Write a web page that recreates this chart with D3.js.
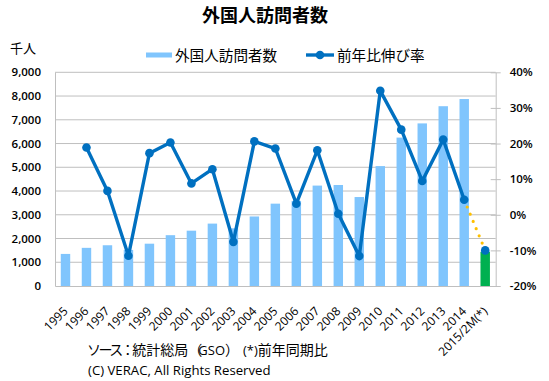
<!DOCTYPE html>
<html><head><meta charset="utf-8">
<script src="https://cdn.jsdelivr.net/npm/d3@7/dist/d3.min.js"></script>
<style>
body{margin:0;background:#fff;}
svg{display:block;}
</style></head>
<body><svg id="c" width="549" height="381"></svg>
<script>
const categories = ["1995","1996","1997","1998","1999","2000","2001","2002","2003","2004","2005","2006","2007","2008","2009","2010","2011","2012","2013","2014","2015/2M(*)"];
const visitors = [1351,1607,1716,1520,1782,2140,2330,2628,2429,2928,3468,3584,4229,4254,3747,5050,6250,6848,7572,7874,1440];
const growth = [null,18.9,6.7,-11.5,17.3,20.3,8.8,12.8,-7.6,20.6,18.6,3.1,18.1,0.3,-11.6,34.8,23.9,9.5,21.1,4.2,-10.0];
const leftTicks = [0,1000,2000,3000,4000,5000,6000,7000,8000,9000];
const rightTicks = [-20,-10,0,10,20,30,40];

const svg = d3.select("#c");
const L = 55, R = 495.7, T = 72.3, B = 286;
const jp = "'Noto Sans CJK JP', sans-serif";
const num = "'Open Sans', sans-serif";

const x = d3.scaleBand().domain(categories).range([L, R]).paddingInner(0.55).paddingOuter(0.275);
const y = d3.scaleLinear().domain([0, 9000]).range([B, T]);
const y2 = d3.scaleLinear().domain([-20, 40]).range([B, T]);

// gridlines
svg.append("g").selectAll("line").data(leftTicks.slice(1)).join("line")
  .attr("x1", L).attr("x2", R).attr("y1", d => y(d)).attr("y2", d => y(d))
  .attr("stroke", "#bfbfbf").attr("stroke-width", 1);

// left axis
const gl = svg.append("g").attr("transform", `translate(${L},0)`)
  .call(d3.axisLeft(y).tickValues(leftTicks).tickFormat(d3.format(",")).tickSize(0).tickPadding(14));
gl.select(".domain").attr("stroke", "#bfbfbf");
gl.selectAll("text").attr("font-family", num).attr("font-size", 11.5).attr("fill", "#000").attr("font-weight", 600);

// right axis
const gr = svg.append("g").attr("transform", `translate(${R},0)`)
  .call(d3.axisRight(y2).tickValues(rightTicks).tickFormat(d => d + "%").tickSizeInner(5).tickSizeOuter(0).tickPadding(9));
gr.select(".domain").attr("stroke", "#bfbfbf");
gr.selectAll(".tick line").attr("stroke", "#bfbfbf").attr("x1", -5);
gr.selectAll("text").attr("font-family", num).attr("font-size", 11.5).attr("fill", "#000").attr("font-weight", 600);

// bottom axis
const gb = svg.append("g").attr("transform", `translate(0,${B})`)
  .call(d3.axisBottom(x).tickSize(0).tickPadding(0));
gb.select(".domain").attr("stroke", "#bfbfbf");
gb.selectAll("text").attr("font-family", num).attr("font-size", 12).attr("fill", "#000")
  .attr("text-anchor", "end").attr("dy", 0).attr("y", 0)
  .attr("transform", "translate(3,26) rotate(-45)");

// bars
svg.append("g").selectAll("rect").data(categories).join("rect")
  .attr("x", d => x(d)).attr("width", x.bandwidth())
  .attr("y", (d, i) => y(visitors[i])).attr("height", (d, i) => B - y(visitors[i]))
  .attr("fill", (d, i) => i === categories.length - 1 ? "#00b050" : "#80c5fd");

// line
const pts = categories.map((c, i) => ({c, v: growth[i]})).filter(p => p.v !== null);
const cx = p => x(p.c) + x.bandwidth() / 2;
const line = d3.line().x(cx).y(p => y2(p.v));
const solid = pts.slice(0, pts.length - 1);
const dotted = pts.slice(pts.length - 2);
svg.append("path").attr("d", line(dotted)).attr("fill", "none")
  .attr("stroke", "#ffc000").attr("stroke-width", 3.2).attr("stroke-linecap", "round")
  .attr("stroke-dasharray", "0 7.8");
svg.append("path").attr("d", line(solid)).attr("fill", "none")
  .attr("stroke", "#0070c0").attr("stroke-width", 3.4).attr("stroke-linejoin", "round");
svg.append("g").selectAll("circle").data(pts).join("circle")
  .attr("cx", cx).attr("cy", p => y2(p.v)).attr("r", 4.3).attr("fill", "#0070c0");

// title
svg.append("text").attr("x", 265).attr("y", 22).attr("text-anchor", "middle")
  .attr("font-family", jp).attr("font-size", 18).attr("font-weight", 700).text("外国人訪問者数");
svg.append("text").attr("x", 10).attr("y", 53)
  .attr("font-family", jp).attr("font-size", 13).text("千人");

// legend
svg.append("rect").attr("x", 146).attr("y", 52.5).attr("width", 26).attr("height", 5).attr("fill", "#80c5fd");
svg.append("text").attr("x", 175).attr("y", 61).attr("font-family", jp).attr("font-size", 14.6).text("外国人訪問者数");
svg.append("line").attr("x1", 306).attr("x2", 334).attr("y1", 55).attr("y2", 55).attr("stroke", "#0070c0").attr("stroke-width", 3.4);
svg.append("circle").attr("cx", 320).attr("cy", 55).attr("r", 4.3).attr("fill", "#0070c0");
svg.append("text").attr("x", 337).attr("y", 61).attr("font-family", jp).attr("font-size", 14.6).text("前年比伸び率");

// notes
const note = svg.append("text").attr("x", 87).attr("y", 355).attr("font-family", jp).attr("font-size", 14);
note.append("tspan").attr("letter-spacing", -2.5).text("ソース：");
note.append("tspan").text("統計総局");
note.append("tspan").attr("letter-spacing", -4).text("（");
note.append("tspan").attr("font-family", num).attr("font-size", 13).text("GSO");
note.append("tspan").text("）");
note.append("tspan").attr("dx", 4).attr("font-family", num).attr("font-size", 13).text("(*)");
note.append("tspan").text("前年同期比");
svg.append("text").attr("x", 88).attr("y", 375).attr("font-family", num).attr("font-size", 13.2)
  .text("(C) VERAC, All Rights Reserved");
</script></body></html>
